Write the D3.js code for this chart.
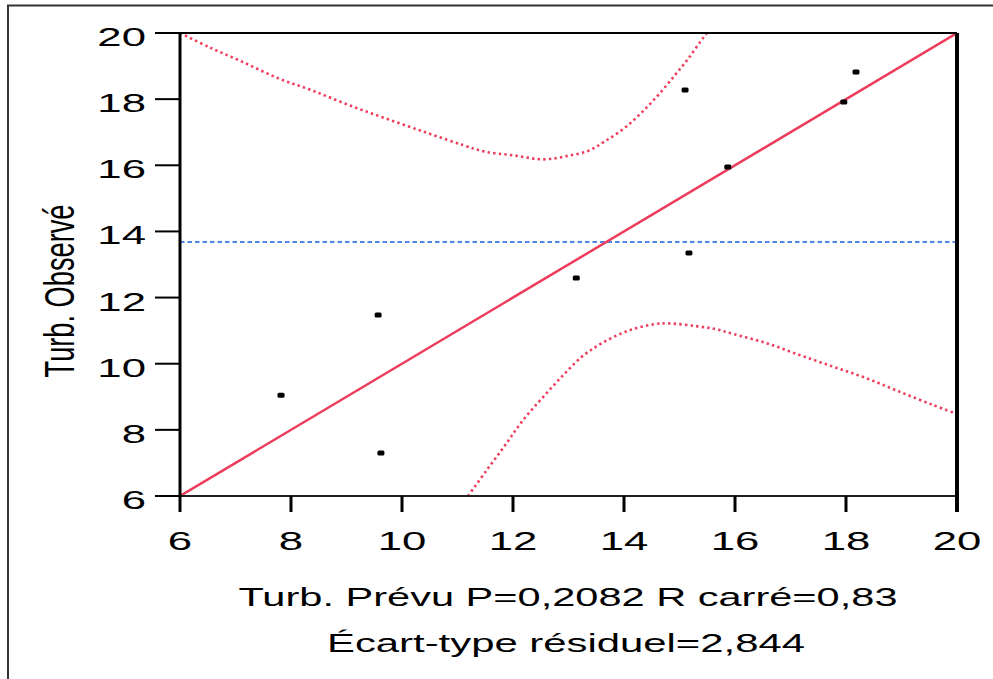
<!DOCTYPE html>
<html>
<head>
<meta charset="utf-8">
<script src="https://cdn.jsdelivr.net/npm/d3@7"></script>
<style>
  body { margin: 0; background: #fff; }
  svg { display: block; font-family: "Liberation Sans", Arial, sans-serif; }
</style>
</head>
<body>
<svg id="chart" width="993" height="679"></svg>
<script>
// data
var predicted = [7.82, 9.57, 9.62, 13.14, 15.10, 15.17, 15.87, 17.96, 18.18];
var observed  = [9.05, 11.47, 7.30, 12.59, 18.28, 13.35, 15.95, 17.91, 18.82];

var fitX = [6, 20];
var fitY = [6, 20];
var meanObserved = 13.68;

var upperX = [6.00, 6.54, 7.11, 7.77, 8.37, 9.06, 9.75, 10.47, 11.10, 11.50, 12.01, 12.55, 12.97, 13.36, 13.66, 14.02, 14.32, 14.62, 14.92, 15.16, 15.43, 15.50];
var upperY = [20.00, 19.56, 19.14, 18.63, 18.27, 17.81, 17.39, 16.97, 16.61, 16.41, 16.30, 16.18, 16.28, 16.44, 16.73, 17.14, 17.60, 18.13, 18.73, 19.23, 19.86, 20.00];

var lowerX = [11.19, 11.53, 11.86, 12.16, 12.52, 12.88, 13.24, 13.60, 14.08, 14.56, 14.80, 15.28, 15.64, 15.97, 16.57, 17.17, 17.77, 18.37, 18.97, 19.57, 20.00];
var lowerY = [6.00, 6.79, 7.54, 8.25, 8.95, 9.61, 10.21, 10.62, 11.00, 11.20, 11.22, 11.14, 11.05, 10.90, 10.62, 10.26, 9.91, 9.56, 9.15, 8.75, 8.48];

var xTicks = [6, 8, 10, 12, 14, 16, 18, 20];
var yTicks = [6, 8, 10, 12, 14, 16, 18, 20];

var xTitle1 = "Turb. Prévu P=0,2082 R carré=0,83";
var xTitle2 = "Écart-type résiduel=2,844";
var yTitle = "Turb. Observé";

// layout
var margin = {top: 33, right: 36, bottom: 183, left: 180},
    width = 993 - margin.left - margin.right,
    height = 679 - margin.top - margin.bottom;

var red = "#ee3d5c", blue = "#4f86ec";

var root = d3.select("#chart");

// outer frame
root.append("path")
  .attr("d", "M8,679 V5.5 H993")
  .attr("fill", "none")
  .attr("stroke", "#333")
  .attr("stroke-width", 2);

var svg = root.append("g")
  .attr("transform", "translate(" + margin.left + "," + margin.top + ")");

var x = d3.scaleLinear().domain([6, 20]).range([0, width]);
var y = d3.scaleLinear().domain([6, 20]).range([height, 0]);

svg.append("clipPath").attr("id", "clip")
  .append("rect").attr("width", width).attr("height", height);

var plot = svg.append("g").attr("clip-path", "url(#clip)");

// mean line
plot.append("line")
  .attr("x1", 0).attr("x2", width)
  .attr("y1", y(meanObserved)).attr("y2", y(meanObserved))
  .attr("stroke", blue).attr("stroke-width", 2)
  .attr("stroke-dasharray", "4.5,3");

// confidence curves
var curve = d3.line()
  .x(function(d) { return x(d[0]); })
  .y(function(d) { return y(d[1]); })
  .curve(d3.curveCatmullRom);

[[upperX, upperY], [lowerX, lowerY]].forEach(function(c) {
  plot.append("path")
    .datum(d3.zip(c[0], c[1]))
    .attr("d", curve)
    .attr("fill", "none")
    .attr("stroke", red).attr("stroke-width", 2.6)
    .attr("stroke-dasharray", "2.4,3.2");
});

// fit line
plot.append("path")
  .datum(d3.zip(fitX, fitY))
  .attr("d", d3.line().x(function(d) { return x(d[0]); }).y(function(d) { return y(d[1]); }))
  .attr("fill", "none")
  .attr("stroke", red).attr("stroke-width", 2.5);

// points
plot.selectAll("rect.pt")
  .data(d3.zip(predicted, observed))
  .enter().append("rect")
  .attr("class", "pt")
  .attr("x", function(d) { return x(d[0]) - 3.5; })
  .attr("y", function(d) { return y(d[1]) - 2.5; })
  .attr("width", 7).attr("height", 5)
  .attr("rx", 1.5)
  .attr("fill", "#000");

// frame lines
svg.append("line").attr("x1", 0).attr("x2", width).attr("y1", 0).attr("y2", 0)
  .attr("stroke", "#000").attr("stroke-width", 2);
svg.append("line").attr("x1", -25).attr("x2", width).attr("y1", height).attr("y2", height)
  .attr("stroke", "#222").attr("stroke-width", 2);
svg.append("line").attr("x1", 0).attr("x2", 0).attr("y1", 0).attr("y2", height)
  .attr("stroke", "#000").attr("stroke-width", 3);
svg.append("line").attr("x1", width).attr("x2", width).attr("y1", 0).attr("y2", height + 16)
  .attr("stroke", "#000").attr("stroke-width", 4);

// x ticks
var xg = svg.append("g");
xg.selectAll("line").data(xTicks).enter().append("line")
  .attr("x1", function(d) { return x(d); }).attr("x2", function(d) { return x(d); })
  .attr("y1", height).attr("y2", height + 16)
  .attr("stroke", "#000").attr("stroke-width", 3);
xg.selectAll("g").data(xTicks).enter().append("g")
  .attr("transform", function(d) { return "translate(" + x(d) + "," + (height + 54) + ") scale(1.75,1)"; })
  .append("text")
  .attr("text-anchor", "middle")
  .attr("font-size", 25)
  .text(function(d) { return d; });

// y ticks
var yg = svg.append("g");
yg.selectAll("line").data(yTicks).enter().append("line")
  .attr("x1", -25).attr("x2", 0)
  .attr("y1", function(d) { return y(d); }).attr("y2", function(d) { return y(d); })
  .attr("stroke", "#000").attr("stroke-width", 2);
yg.selectAll("g").data(yTicks).enter().append("g")
  .attr("transform", function(d) { return "translate(-34," + (y(d) + 13) + ") scale(1.75,1)"; })
  .append("text")
  .attr("text-anchor", "end")
  .attr("font-size", 25)
  .text(function(d) { return d; });

// titles (the picture is stretched sideways, so is the text)
root.append("text")
  .attr("x", 568).attr("y", 606)
  .attr("text-anchor", "middle")
  .attr("font-size", 26)
  .attr("textLength", 659).attr("lengthAdjust", "spacingAndGlyphs")
  .text(xTitle1);
root.append("text")
  .attr("x", 566).attr("y", 652)
  .attr("text-anchor", "middle")
  .attr("font-size", 26)
  .attr("textLength", 478).attr("lengthAdjust", "spacingAndGlyphs")
  .text(xTitle2);
root.append("g")
  .attr("transform", "translate(74,291) rotate(-90) scale(1,1.6)")
  .append("text")
  .attr("text-anchor", "middle")
  .attr("font-size", 26)
  .attr("textLength", 173).attr("lengthAdjust", "spacingAndGlyphs")
  .text(yTitle);
</script>
</body>
</html>
